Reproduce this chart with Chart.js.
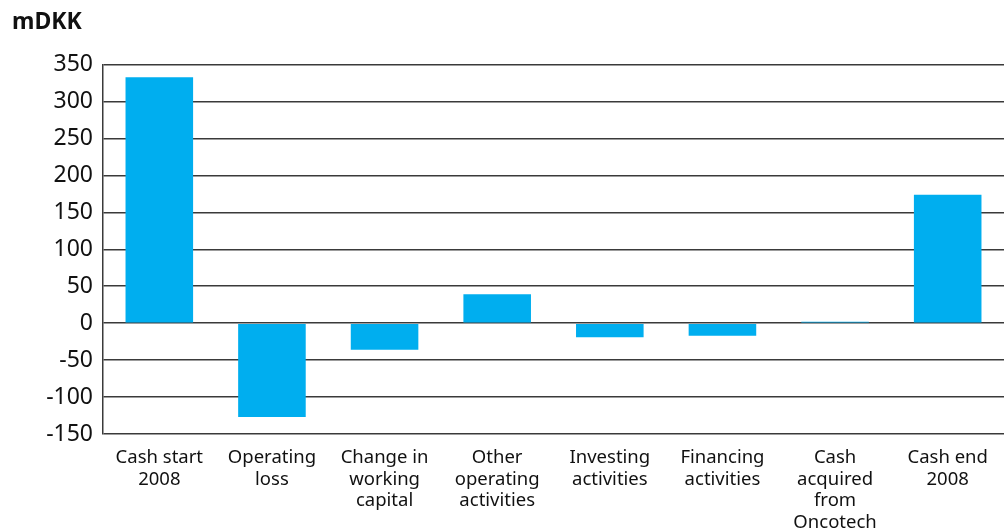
<!DOCTYPE html>
<html>
<head>
<meta charset="utf-8">
<script src="https://cdn.jsdelivr.net/npm/chart.js@4"></script>
<style>
  html, body { margin: 0; padding: 0; background: #fff; }
  #wrap { width: 1004px; height: 528px; }
</style>
</head>
<body>
<div id="wrap"><canvas id="c" width="1004" height="528"></canvas></div>
<script>
// categories and values (mDKK)
const categories = [
  ["Cash start", "2008"],
  ["Operating", "loss"],
  ["Change in", "working", "capital"],
  ["Other", "operating", "activities"],
  ["Investing", "activities"],
  ["Financing", "activities"],
  ["Cash", "acquired", "from", "Oncotech"],
  ["Cash end", "2008"]
];
const values = [333, -127, -36, 39, -19, -17, 2, 174];
const yTicks = [-150, -100, -50, 0, 50, 100, 150, 200, 250, 300, 350];

const barColor = "#00AEEF";
const lineColor = "#3a3a3a";

new Chart(document.getElementById("c"), {
  type: "bar",
  data: {
    labels: categories,
    datasets: [{
      data: values,
      backgroundColor: barColor,
      borderWidth: 0,
      categoryPercentage: 1,
      barPercentage: 0.6
    }]
  },
  options: {
    responsive: false,
    animation: false,
    layout: { padding: { left: 12, right: 0, top: 0, bottom: 0 } },
    plugins: {
      legend: { display: false },
      tooltip: { enabled: false },
      title: {
        display: true,
        text: "mDKK",
        align: "start",
        color: "#111",
        font: { family: "Noto Sans", size: 23, weight: "bold" },
        padding: { top: 9, bottom: 28 }
      }
    },
    scales: {
      y: {
        min: -150,
        max: 350,
        afterBuildTicks: s => { s.ticks = yTicks.map(v => ({ value: v })); },
        afterFit: s => { s.width = 91; },
        grid: { color: lineColor, lineWidth: 1.5, drawTicks: false },
        border: { display: true, color: lineColor, width: 1.5 },
        ticks: {
          padding: 10,
          color: "#111",
          font: { family: "Noto Sans", size: 23 }
        }
      },
      x: {
        afterFit: s => { s.height = 94; },
        grid: { display: false },
        border: { display: false },
        ticks: {
          padding: 5,
          maxRotation: 0,
          autoSkip: false,
          color: "#111",
          font: { family: "Noto Sans", size: 18.5, lineHeight: 1.17 }
        }
      }
    }
  }
});
</script>
</body>
</html>
